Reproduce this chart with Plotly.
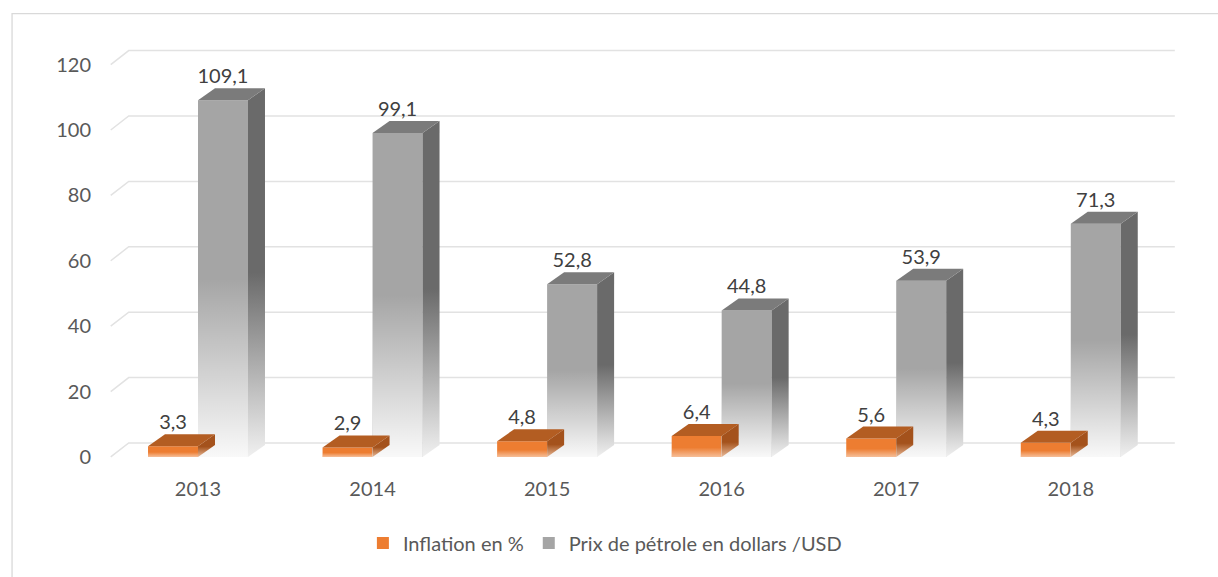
import plotly.graph_objects as go

# ---------------- data ----------------
years = ["2013", "2014", "2015", "2016", "2017", "2018"]
inflation = [3.3, 2.9, 4.8, 6.4, 5.6, 4.3]
oil_price = [109.1, 99.1, 52.8, 44.8, 53.9, 71.3]
y_ticks = [0, 20, 40, 60, 80, 100, 120]
series_names = ["Inflation en %", "Prix de pétrole en dollars /USD"]

# ---------------- geometry / style ----------------
W, H = 1218, 577
PX_CAT = 174.6          # px per category
PX_VAL = 3.27           # px per value unit
X0_PX = 198.0           # px of category 0 centre
Y0_PX = 457.0           # px of value 0 (front plane)
X_RANGE = [-0.55, 5.62]
Y_RANGE = [-4, 126]
BAR_W = 50 / PX_CAT
DX = 17 / PX_CAT
DY = 12 / PX_VAL
GDX = 18 / PX_CAT
GDY = 14 / PX_VAL
GRID_END = 5.596

ml = X0_PX + X_RANGE[0] * PX_CAT
mr = W - (X0_PX + X_RANGE[1] * PX_CAT)
mt = Y0_PX - Y_RANGE[1] * PX_VAL
mb = H - (Y0_PX - Y_RANGE[0] * PX_VAL)
plot_w = W - ml - mr
plot_h = H - mt - mb

FONT = "Lato"
TICK_COLOR = "#595959"
LABEL_COLOR = "#404040"

ORANGE = dict(front="#ED7D31", top="#B35D22", side="#A4521C")
GRAY = dict(front="#A5A5A5", top="#7B7B7B", side="#6A6A6A")

fig = go.Figure()
idx = list(range(len(years)))

# front faces as bars
fig.add_trace(go.Bar(x=idx, y=inflation, width=BAR_W, offset=-BAR_W,
                     marker=dict(color=ORANGE["front"], line=dict(width=0)),
                     name=series_names[0], hoverinfo="skip"))
fig.add_trace(go.Bar(x=idx, y=oil_price, width=BAR_W, offset=0,
                     marker=dict(color=GRAY["front"], line=dict(width=0)),
                     name=series_names[1], hoverinfo="skip"))


def poly(xs, ys, **kw):
    return go.Scatter(x=xs, y=ys, mode="lines", fill="toself",
                      line=dict(width=0), showlegend=False, hoverinfo="skip", **kw)


def add_3d(values, offset, col, fade_front, side_light, fade_mid):
    for i, v in zip(idx, values):
        x0 = i + offset
        x1 = x0 + BAR_W
        # fade overlay on front face
        fig.add_trace(poly([x0, x1, x1, x0, x0], [0, 0, v, v, 0],
                           fillgradient=dict(type="vertical", start=0, stop=v,
                                             colorscale=[[0, fade_front],
                                                         [fade_mid, "rgba(255,255,255,0)"],
                                                         [1, "rgba(255,255,255,0)"]])))
        # side face
        fig.add_trace(poly([x1, x1, x1 + DX, x1 + DX, x1], [0, v, v + DY, DY, 0],
                           fillgradient=dict(type="vertical", start=0, stop=v + DY,
                                             colorscale=[[0, side_light],
                                                         [fade_mid, col["side"]],
                                                         [1, col["side"]]])))
        # top face
        fig.add_trace(poly([x0, x1, x1 + DX, x0 + DX, x0], [v, v, v + DY, v + DY, v],
                           fillcolor=col["top"]))


add_3d(oil_price, 0, GRAY, "rgba(255,255,255,0.93)", "#f0f0f0", 0.5)
add_3d(inflation, -BAR_W, ORANGE, "rgba(255,255,255,0.5)", "#e8b896", 0.45)

# data labels
for values, offset in ((inflation, -BAR_W), (oil_price, 0)):
    fig.add_trace(go.Scatter(
        x=[i + offset + BAR_W / 2 for i in idx],
        y=[v + DY for v in values],
        mode="text",
        text=[f"{v:.1f}".replace(".", ",") for v in values],
        textposition="top center",
        textfont=dict(family=FONT, size=20, color=LABEL_COLOR),
        showlegend=False, hoverinfo="skip"))

# back-wall gridlines with perspective diagonal
shapes = []
for t in y_ticks:
    shapes.append(dict(type="path", xref="x", yref="y", layer="below",
                       path=f"M {-0.5},{t} L {-0.5 + GDX},{t + GDY} L {GRID_END},{t + GDY}",
                       line=dict(color="#e2e2e2", width=1.5)))

# outer chart border
def px2paper_x(px):
    return (px - ml) / plot_w


def px2paper_y(py):
    return (H - mb - py) / plot_h


shapes.append(dict(type="rect", xref="paper", yref="paper", layer="below",
                   x0=px2paper_x(12), x1=px2paper_x(1240),
                   y0=px2paper_y(600), y1=px2paper_y(13.5),
                   line=dict(color="#d9d9d9", width=1.3), fillcolor="rgba(0,0,0,0)"))

fig.update_layout(
    width=W, height=H,
    margin=dict(l=ml, r=mr, t=mt, b=mb, autoexpand=False),
    paper_bgcolor="white", plot_bgcolor="white",
    barmode="overlay",
    font=dict(family=FONT, size=20, color=TICK_COLOR),
    shapes=shapes,
    showlegend=True,
    legend=dict(orientation="h", x=px2paper_x(605), xanchor="center",
                y=px2paper_y(543), yanchor="middle",
                font=dict(family=FONT, size=20, color=TICK_COLOR),
                traceorder="normal", itemwidth=30),
    xaxis=dict(range=X_RANGE, tickmode="array", tickvals=idx, ticktext=years,
               showgrid=False, zeroline=False, showline=False, ticks="",
               ticklabelstandoff=5, automargin=False, fixedrange=True,
               tickfont=dict(family=FONT, size=20, color=TICK_COLOR)),
    yaxis=dict(range=Y_RANGE, tickmode="array", tickvals=y_ticks,
               showgrid=False, zeroline=False, showline=False, ticks="",
               ticklabelstandoff=10, automargin=False, fixedrange=True,
               tickfont=dict(family=FONT, size=20, color=TICK_COLOR)),
)

fig.write_html("out.html", config={"displayModeBar": False},
               post_script="document.body.style.margin='0';")
